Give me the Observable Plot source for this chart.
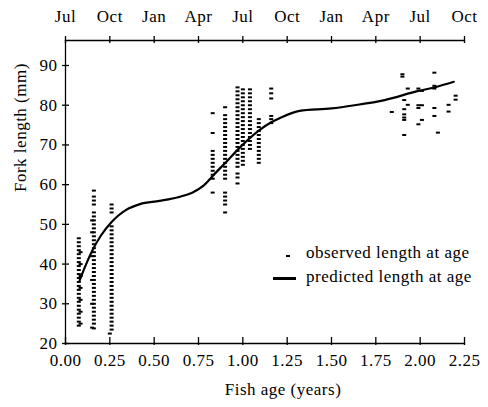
<!DOCTYPE html>
<html><head><meta charset="utf-8">
<script src="https://cdn.jsdelivr.net/npm/d3@7"></script>
<script src="https://cdn.jsdelivr.net/npm/@observablehq/plot@0.6"></script>
<style>
body{margin:0;background:#fff;}
#wrap{position:relative;width:488px;height:407px;font-family:"Liberation Serif","Times New Roman",serif;color:#000;}
.lg{position:absolute;font-size:17px;line-height:17px;letter-spacing:0.5px;white-space:nowrap;}
.blk{position:absolute;background:#000;}
</style></head><body><div id="wrap"></div>
<script>
// Axis ticks
const xTicks = [0, 0.25, 0.5, 0.75, 1, 1.25, 1.5, 1.75, 2, 2.25];
const xTickLabels = ["0.00","0.25","0.50","0.75","1.00","1.25","1.50","1.75","2.00","2.25"];
const topLabels = ["Jul","Oct","Jan","Apr","Jul","Oct","Jan","Apr","Jul","Oct"];
const yTicks = [20, 30, 40, 50, 60, 70, 80, 90];

// Observed length at age: columns of fish (age, lengths)
const colAges = [0.075, 0.085, 0.15, 0.16, 0.25, 0.26,
                 0.83, 0.9, 0.97, 1.0, 1.04, 1.09, 1.16];
const colLengths = [
  [24.5,25.5,26.5,27.5,28.5,29.5,30.5,31.5,32.5,33.5,34.5,35.5,36.5,37.5,38.5,39.5,40.5,41.5,42.5,43.5,44.5,45.5,46.5],
  [25,28,31,34,37,40,43],
  [24,30,36,42,48,51],
  [23.8,25,26,27,28,29,30,31,32,33,34,35,36,37,38,39,40,41,42,43,44,45,46,47,48,49,50,51,52,53,55,56,57,58.5],
  [22.5],
  [23.5,24.5,25.5,26.5,27.5,28.5,29.5,30.5,31.5,32.5,33.5,34.5,35.5,36.5,37.5,38.5,39.5,40.5,41.5,42.5,43.5,44.5,45.5,46.5,47.5,48.5,49.5,53,54,55],
  [58,61.5,62.5,63.5,64.5,65.5,66.5,67.5,68.5,73,78],
  [53,55,56,57,58,61.5,62.5,63.5,64.5,65.5,66.5,67.5,68.5,69.5,70.5,71.5,72.5,73.5,74.5,75.5,76.5,77.5,79.5],
  [60.3,61.8,62.8,64.5,65.5,66.5,67.5,68.5,69.5,70.5,71.5,72.5,73.5,74.5,75.5,76.5,77.5,78.5,79.5,80.5,81.5,82.5,83.5,84.5],
  [65,66,67,68,69,70,71,72,73,74,75,76,77,78,79,80,81,82,83,84],
  [69,70,71,72,73,74,75,76,77,78,79,80,81,82,83,84],
  [65.5,66.5,67.5,68.5,69.5,70.5,71.5,72.5,73.5,74.5,75.5,76.5],
  [75.5,76.5,77.3,81.7,83,84.2]
];
// Two-year-old fish (individual observations)
const oldAge = [1.90,1.90,2.08,1.93,1.99,2.01,2.08,2.08,1.91,1.93,1.91,1.84,1.91,1.91,1.91,1.99,2.01,1.99,2.08,2.08,2.16,2.16,2.20,2.20,2.01,1.99,1.91,2.10];
const oldLen = [87.8,87.2,88.2,84.2,84.2,83.6,84.9,84.2,81.3,80.1,79.0,78.3,77.7,76.9,76.3,80.0,80.0,79.3,79.3,77.3,80.1,78.4,82.4,81.4,76.3,75.2,72.5,73.1];

// Predicted length at age
const curveAge = [0.08,0.11,0.15,0.20,0.26,0.30,0.34,0.42,0.53,0.64,0.72,0.78,0.83,0.91,0.98,1.09,1.16,1.21,1.32,1.50,1.63,1.80,1.99,2.09,2.19];
const curveLen = [35.9,39.3,43.3,47.2,50.6,52.3,53.6,55.1,55.9,56.9,58.1,59.8,62.2,65.9,69.2,73.6,75.7,76.8,78.6,79.2,80.0,81.3,83.6,84.6,85.9];

const observed = [];
colAges.forEach((a, i) => colLengths[i].forEach(l => observed.push({age: a, len: l})));
oldAge.forEach((a, i) => observed.push({age: a, len: oldLen[i]}));
const predicted = curveAge.map((a, i) => ({age: a, len: curveLen[i]}));

const xLab = new Map(xTicks.map((t, i) => [t, xTickLabels[i]]));
const topLab = new Map(xTicks.map((t, i) => [t, topLabels[i]]));
const dash = {draw(ctx) { ctx.rect(-2, -1, 4, 2); }};

const chart = Plot.plot({
  width: 488, height: 407,
  marginTop: 40, marginLeft: 65, marginRight: 24, marginBottom: 64,
  style: {fontFamily: "'Liberation Serif','Times New Roman',serif", fontSize: "17px", letterSpacing: "0.5px", color: "#000", background: "#fff"},
  x: {domain: [0, 2.25]},
  y: {domain: [20, 96.3]},
  marks: [
    Plot.frame({anchor: "top", strokeWidth: 1.3}),
    Plot.frame({anchor: "left", strokeWidth: 1.3}),
    Plot.frame({anchor: "bottom", strokeWidth: 1.3}),
    Plot.axisX({anchor: "bottom", ticks: xTicks, tickSize: 8, dy: -6, tickFormat: () => "", label: null, strokeWidth: 1.3}),
    Plot.axisX({anchor: "bottom", ticks: xTicks, tickSize: 0, tickPadding: 10, tickFormat: d => xLab.get(d), label: null, fontSize: 17}),
    Plot.axisX({anchor: "top", ticks: xTicks, tickSize: 7, dy: 2, tickFormat: () => "", label: null, strokeWidth: 1.3}),
    Plot.axisX({anchor: "top", ticks: xTicks, tickSize: 0, tickPadding: 19, tickFormat: d => topLab.get(d), label: null, fontSize: 17}),
    Plot.axisY({ticks: yTicks, tickSize: 7, dx: 4, tickFormat: () => "", label: null, strokeWidth: 1.3}),
    Plot.axisY({ticks: yTicks, tickSize: 0, tickPadding: 8, label: null, fontSize: 17}),
    Plot.text(["Fish age (years)"], {frameAnchor: "bottom", dx: 18, dy: 51, fontSize: 17}),
    Plot.text(["Fork length (mm)"], {frameAnchor: "left", dx: -45, rotate: -90, fontSize: 17}),
    Plot.dot(observed, {x: "age", y: "len", symbol: dash, fill: "#000", stroke: null}),
    Plot.line(predicted, {x: "age", y: "len", curve: "monotone-x", stroke: "#000", strokeWidth: 2.2})
  ]
});
const wrap = document.getElementById("wrap");
wrap.appendChild(chart);
wrap.insertAdjacentHTML("beforeend",
  '<div class="blk" style="left:286px;top:255px;width:4px;height:2px"></div>' +
  '<div class="lg" style="left:306px;top:244px">observed length at age</div>' +
  '<div class="blk" style="left:273px;top:277px;width:23px;height:2.5px"></div>' +
  '<div class="lg" style="left:306px;top:268px">predicted length at age</div>');
</script></body></html>
